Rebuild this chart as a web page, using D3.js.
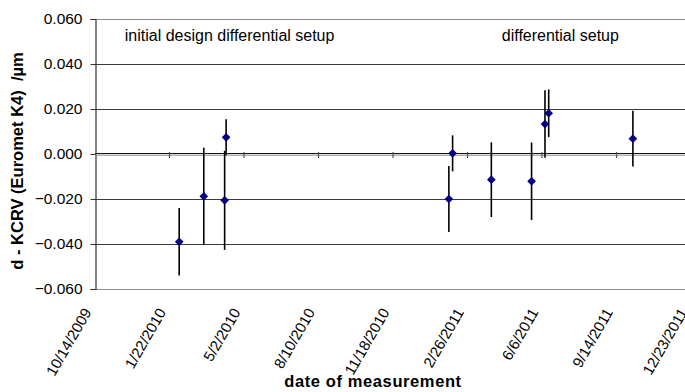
<!DOCTYPE html>
<html>
<head>
<meta charset="utf-8">
<script src="https://cdn.jsdelivr.net/npm/d3@7/dist/d3.min.js"></script>
<style>
  html, body { margin: 0; padding: 0; background: #fff; }
  svg { display: block; font-family: "Liberation Sans", Arial, sans-serif; }
  svg text { font-family: "Liberation Sans", Arial, sans-serif; white-space: pre; }
</style>
</head>
<body>
<svg id="chart" width="685" height="392"></svg>
<script>
// ---- data ----
const dates = ["2010-02-04", "2010-03-09", "2010-04-08", "2010-04-06",
               "2011-02-01", "2011-02-06", "2011-03-30", "2011-05-23",
               "2011-06-10", "2011-06-15", "2011-10-06"];
const values = [-0.039, -0.0188, 0.0074, -0.0206,
                -0.020, 0.0003, -0.0114, -0.0121,
                0.0133, 0.0181, 0.0068];
const errors = [0.015, 0.0216, 0.008, 0.022,
                0.0147, 0.008, 0.0166, 0.0172,
                0.015, 0.0106, 0.0124];
const xTickLabels = ["10/14/2009", "1/22/2010", "5/2/2010", "8/10/2010", "11/18/2010",
                     "2/26/2011", "6/6/2011", "9/14/2011", "12/23/2011"];
const yTicks = [-0.060, -0.040, -0.020, 0.000, 0.020, 0.040, 0.060];
const annotations = [
  {text: "initial design differential setup", date: "2009-11-23", value: 0.0502},
  {text: "differential setup", date: "2011-04-13", value: 0.0502}
];
const xTitle = "date of measurement";
const yTitle = "d - KCRV (Euromet K4)  /µm";

// ---- drawing ----
const svg = d3.select("#chart");
const parseISO = d3.utcParse("%Y-%m-%d");
const parseUS = d3.utcParse("%m/%d/%Y");
const tickDates = xTickLabels.map(parseUS);

const mLeft = 95, mRight = 691, mTop = 19, mBottom = 289;
const x = d3.scaleUtc().domain([tickDates[0], tickDates[tickDates.length - 1]]).range([mLeft, mRight]);
const y = d3.scaleLinear().domain([-0.06, 0.06]).range([mBottom, mTop]);
const fmt = d3.format(".3f");
const y0 = Math.round(y(0));
const FONT = "Liberation Sans, Arial, sans-serif";

// gridlines
svg.append("g").selectAll("line").data(yTicks.filter(v => v !== 0)).join("line")
  .attr("x1", mLeft).attr("x2", 685)
  .attr("y1", d => Math.round(y(d)) + 0.5).attr("y2", d => Math.round(y(d)) + 0.5)
  .attr("stroke", d => (Math.abs(d) === 0.06) ? "#8c8c8c" : "#3a3a3a")
  .attr("stroke-width", 1);

// y axis
const yAxis = d3.axisLeft(y).tickValues(yTicks).tickSize(5).tickPadding(8)
  .tickFormat(d => fmt(d).replace("-0.000", "0.000"));
const gy = svg.append("g").attr("transform", `translate(${mLeft + 0.5},0)`).call(yAxis)
  .attr("font-family", FONT);
gy.select(".domain").attr("stroke", "#333").attr("stroke-width", 1.2);
gy.selectAll(".tick line").attr("stroke", "#333");
gy.selectAll(".tick text").attr("font-size", "15.5px").attr("fill", "#000");

// x axis at zero line
const xAxis = d3.axisBottom(x).tickValues(tickDates).tickSize(0).tickFormat("");
const gx = svg.append("g").attr("transform", `translate(0,${y0})`).call(xAxis);
gx.select(".domain").remove();
svg.append("line").attr("x1", mLeft).attr("x2", 685).attr("y1", y0 - 0.5).attr("y2", y0 - 0.5)
  .attr("stroke", "#111").attr("stroke-width", 1.2);
svg.append("line").attr("x1", mLeft).attr("x2", 685).attr("y1", y0 + 1.2).attr("y2", y0 + 1.2)
  .attr("stroke", "#888").attr("stroke-width", 1);
svg.append("g").selectAll("line").data(tickDates.slice(1)).join("line")
  .attr("x1", d => x(d)).attr("x2", d => x(d))
  .attr("y1", y0 - 2).attr("y2", y0 + 4)
  .attr("stroke", "#555").attr("stroke-width", 1.2);

// x tick labels (rotated)
svg.append("g").selectAll("text").data(tickDates).join("text")
  .attr("transform", d => `translate(${x(d) - 3},${mBottom + 23}) rotate(-60)`)
  .attr("text-anchor", "end")
  .attr("font-family", FONT)
  .attr("font-size", "15px")
  .text((d, i) => xTickLabels[i]);

// error bars
const pts = dates.map((d, i) => ({date: parseISO(d), v: values[i], e: errors[i]}));
svg.append("g").selectAll("line").data(pts).join("line")
  .attr("x1", d => x(d.date)).attr("x2", d => x(d.date))
  .attr("y1", d => y(d.v + d.e)).attr("y2", d => y(d.v - d.e))
  .attr("stroke", "#000").attr("stroke-width", 1.6);

// markers
const diamond = d3.symbol().type(d3.symbolDiamond2).size(48);
svg.append("g").selectAll("path").data(pts).join("path")
  .attr("transform", d => `translate(${x(d.date)},${y(d.v)})`)
  .attr("d", diamond)
  .attr("fill", "#000080");

// annotations
svg.append("g").selectAll("text").data(annotations).join("text")
  .attr("x", d => x(parseISO(d.date))).attr("y", d => y(d.value))
  .attr("font-family", FONT)
  .attr("font-size", "16px")
  .text(d => d.text);

// axis titles
svg.append("text")
  .attr("x", 373).attr("y", 387)
  .attr("text-anchor", "middle")
  .attr("font-family", FONT)
  .attr("font-size", "16.5px").attr("font-weight", "bold")
  .attr("letter-spacing", "0.6px")
  .text(xTitle);
svg.append("text")
  .attr("transform", `translate(23,${161}) rotate(-90)`)
  .attr("text-anchor", "middle")
  .attr("font-family", FONT)
  .attr("xml:space", "preserve")
  .attr("font-size", "16.5px").attr("font-weight", "bold")
  .text(yTitle);
</script>
</body>
</html>
